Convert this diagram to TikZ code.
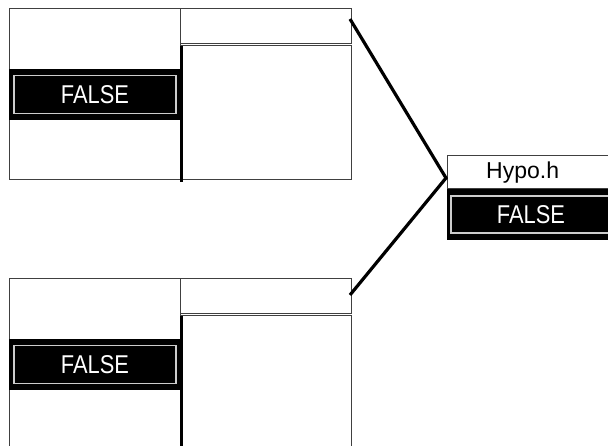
\documentclass[tikz,border=0pt]{standalone}
\usepackage{fontspec}
\setmainfont{Liberation Sans}
\usetikzlibrary{positioning, calc}

\tikzset{
  frame/.style={draw=black!75, line width=1pt, inner sep=0pt, outer sep=0pt},
  band/.style={fill=black, inner sep=0pt, outer sep=0pt},
  valbox/.style={draw=white!80!black, line width=1.8pt, fill=black, text=white,
    font=\fontsize{23}{23}\selectfont, inner sep=0pt, outer sep=0pt},
}

\begin{document}
\begin{tikzpicture}[x=1pt, y=-1pt]
    \useasboundingbox (0,0) rectangle (608,446);
    \clip (0,0) rectangle (608,446);

    % Zwei gleiche Bloecke (oben und unten)
    \foreach \blk/\dy in {A/0, B/270} {
        \node[frame, minimum width=171pt, minimum height=171pt, anchor=north west] (left\blk) at (9,9+\dy) {};
        \node[frame, minimum width=171pt, minimum height=35pt, anchor=north west] (head\blk) at (left\blk.north east) {};
        \node[frame, minimum width=171pt, minimum height=134pt, anchor=north west] (body\blk) at ($(head\blk.south west)+(0,2)$) {};
        \draw[line width=3pt] ($(body\blk.north west)+(1,0)$) -- ($(body\blk.south west)+(1,2)$);

        % Wert FALSE
        \node[band, minimum width=171pt, minimum height=51pt, anchor=north west] (band\blk) at ($(left\blk.north west)+(0,60)$) {};
        \node[valbox, minimum width=162pt, minimum height=38pt] (val\blk) at ($(band\blk.center)+(0.5,0)$) {\scalebox{0.95}[1.12]{FALSE}};
    }

    % Knoten Hypo.h
    \node[frame, minimum width=200pt, minimum height=33pt, anchor=north west] (hypo) at (447,156) {};
    \node[anchor=west, inner sep=0pt, font=\fontsize{23}{23}\selectfont] (hypolabel) at ($(hypo.west)+(39,0)$) {Hypo.h};
    \node[band, minimum width=200pt, minimum height=51pt, anchor=north west] (hypoband) at (hypo.south west) {};
    \node[valbox, minimum width=160pt, minimum height=37pt, anchor=west] (hypoval) at ($(hypoband.west)+(4,0)$) {\scalebox{0.95}[1.12]{FALSE}};

    % Verbindungen
    \coordinate (tip) at ($(hypo.west)+(-1,5.5)$);
    \draw[line width=3.2pt] ($(headA.north east)+(-1,10)$) -- (tip) -- ($(headB.north east)+(-1,16)$);
\end{tikzpicture}
\end{document}
